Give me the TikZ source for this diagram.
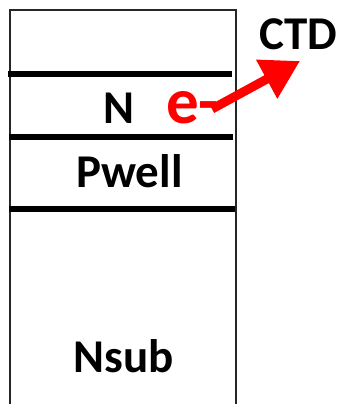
\documentclass[tikz,border=0pt]{standalone}
\usepackage{fontspec}
\setmainfont{Carlito}
\usetikzlibrary{arrows.meta}
\tikzset{
  layerline/.style={line width=6pt, black},
  border/.style={line width=2pt, draw=black!85},
  lbl/.style={font=\fontsize{47}{52}\selectfont\bfseries, inner sep=0pt, anchor=base},
  elec/.style={font=\fontsize{65}{70}\selectfont\bfseries, text=red, inner sep=0pt, anchor=base},
  earrow/.style={red, line width=9pt, -{Triangle[length=38pt, width=42pt]}}
}
\begin{document}
\begin{tikzpicture}[x=1pt, y=-1pt]
\useasboundingbox (0,0) rectangle (339,404);
% outer body
\draw[border] (10,410) -- (10,10) -- (236,10) -- (236,410);
% layer boundaries
\coordinate (l1a) at (8,73.5);  \coordinate (l1b) at (232,73.5);
\coordinate (l2a) at (9,136.5); \coordinate (l2b) at (233,136.5);
\coordinate (l3a) at (9,208.5); \coordinate (l3b) at (235,208.5);
\draw[layerline] (l1a) -- (l1b);
\draw[layerline] (l2a) -- (l2b);
\draw[layerline] (l3a) -- (l3b);
% labels
\node[lbl] (n) at (118.5,123) {N};
\node[lbl] (pwell) at (129.5,187) {Pwell};
\node[lbl] (nsub) at (123.5,372) {Nsub};
\node[lbl] (ctd) at (298.5,50) {CTD};
\node[elec, anchor=base west] (e) at (166,123) {e-};
% arrow
\coordinate (astart) at (212,109);
\coordinate (atip) at (300,61);
\draw[earrow] (astart) -- (atip);
\end{tikzpicture}
\end{document}
